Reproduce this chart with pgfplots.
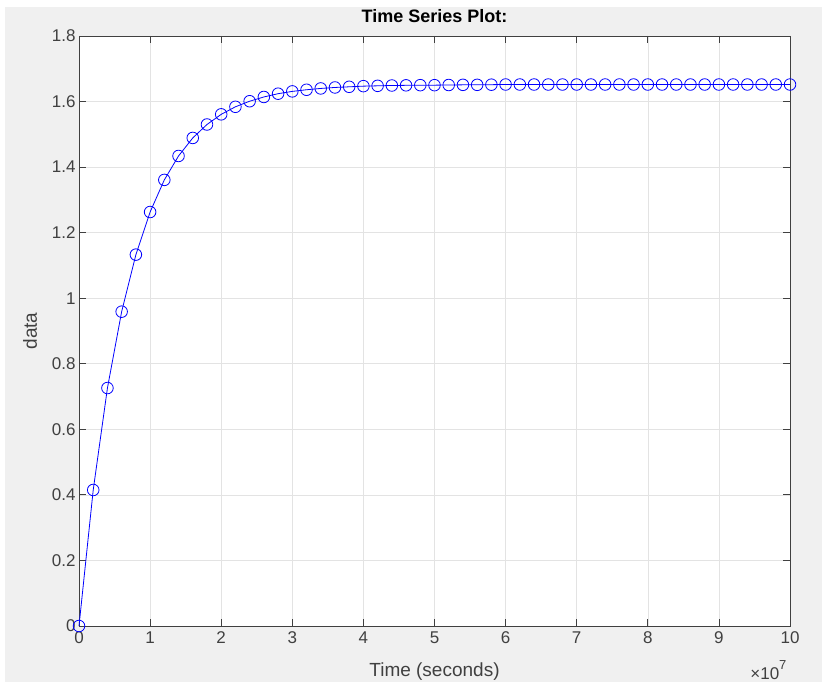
\documentclass[border=0pt]{standalone}
\usepackage{pgfplots}
\pgfplotsset{compat=1.18}
\usepackage{fontspec}
\setmainfont{Liberation Sans}
\definecolor{figgray}{HTML}{F0F0F0}
\definecolor{axgray}{HTML}{404040}
\definecolor{txtgray}{HTML}{404040}
\begin{document}
\begin{tikzpicture}
\fill[white] (0pt,0pt) rectangle (822pt,682pt);
\fill[figgray] (5pt,0pt) rectangle (822pt,675pt);
\begin{axis}[
  at={(79pt,56pt)}, anchor=south west,
  scale only axis, width=711pt, height=590pt,
  xmin=0, xmax=10, ymin=0, ymax=1.8,
  xtick={0,1,...,10},
  ytick={0,0.2,0.4,0.6,0.8,1,1.2,1.4,1.6,1.8},
  yticklabels={0,0.2,0.4,0.6,0.8,1,1.2,1.4,1.6,1.8},
  /pgf/number format/assume math mode=true,
  tick align=inside,
  major tick length=7pt,
  axis line style={axgray, line width=0.8pt},
  tick style={axgray, line width=0.8pt},
  grid=major,
  major grid style={gray!22, line width=0.6pt},
  axis background/.style={fill=white},
  ticklabel style={font=\fontsize{17}{20}\selectfont, text=txtgray},
  xticklabel style={yshift=-2pt},
  title={\textbf{Time Series Plot:}},
  title style={font=\fontsize{18}{21}\selectfont, text=black, yshift=4pt},
  xlabel={Time (seconds)},
  ylabel={data},
  label style={font=\fontsize{19}{22}\selectfont, text=txtgray},
  xlabel style={yshift=-12pt},
  ylabel style={yshift=8pt},
  clip=false,
]
\addplot[blue, line width=0.8pt, mark=o, mark size=5.8pt, mark options={line width=0.8pt}] coordinates {
(0,0) (0.2,0.415) (0.4,0.726) (0.6,0.959) (0.8,1.133) (1.0,1.263) (1.2,1.361) (1.4,1.434)
(1.6,1.489) (1.8,1.530) (2.0,1.561) (2.2,1.584) (2.4,1.601) (2.6,1.614) (2.8,1.624)
(3.0,1.631) (3.2,1.636) (3.4,1.640) (3.6,1.643) (3.8,1.645) (4.0,1.647) (4.2,1.648)
(4.4,1.649) (4.6,1.6495) (4.8,1.650) (5.0,1.650) (5.2,1.6505) (5.4,1.651) (5.6,1.651)
(5.8,1.6515) (6.0,1.652) (6.2,1.652) (6.4,1.652) (6.6,1.652) (6.8,1.652) (7.0,1.652)
(7.2,1.652) (7.4,1.652) (7.6,1.652) (7.8,1.652) (8.0,1.652) (8.2,1.652) (8.4,1.652)
(8.6,1.652) (8.8,1.652) (9.0,1.652) (9.2,1.652) (9.4,1.652) (9.6,1.652) (9.8,1.652)
(10.0,1.652)
};
\end{axis}
\node[anchor=base east, font=\fontsize{17}{20}\selectfont, text=txtgray] at (790pt,3pt) {×10\raisebox{0.55em}{\fontsize{13}{15}\selectfont 7}};
\end{tikzpicture}
\end{document}
